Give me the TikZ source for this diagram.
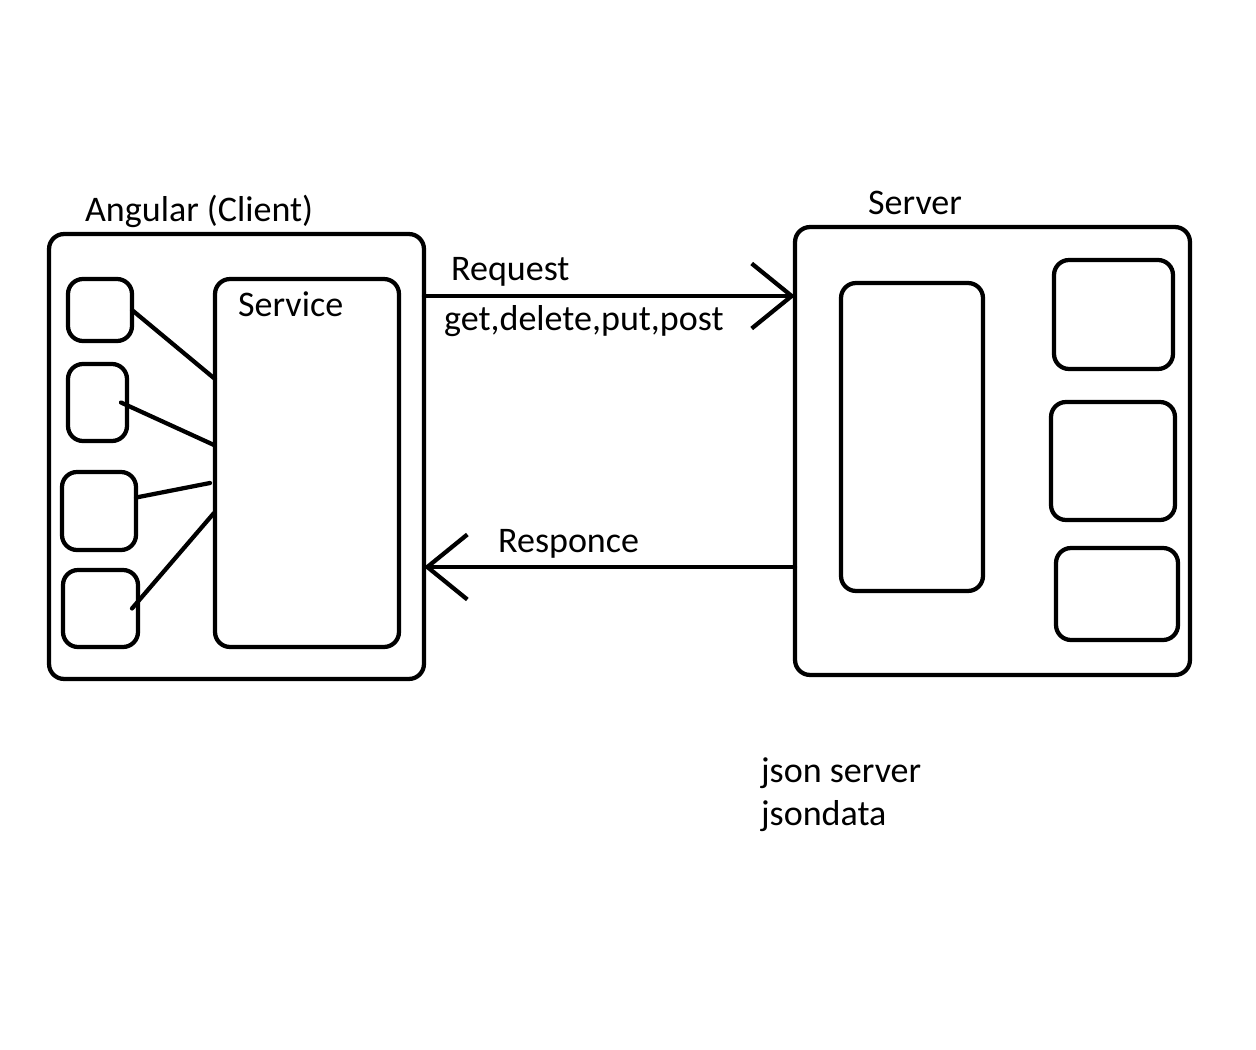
\documentclass[tikz,border=0pt]{standalone}
\usepackage{fontspec}
\setmainfont{Carlito}
\usetikzlibrary{arrows.meta}

\begin{document}
\begin{tikzpicture}[x=0.02cm,y=-0.02cm,line width=0.085cm,line cap=round,
	box/.style={draw,rounded corners=0.3cm,inner sep=0,outer sep=0},
	lbl/.style={anchor=base west,inner sep=0,font=\fontsize{20.5}{24}\selectfont},
	barb/.style={-{Straight Barb[length=0.8cm,width=1.3cm]}}]
	\useasboundingbox (0,0) rectangle (1256,1050);
	% client side
	\node[box,minimum width=7.5cm,minimum height=8.9cm] (client) at (236.5,456.5) {};
	\node[box,minimum width=3.68cm,minimum height=7.36cm] (svc) at (307,463) {};
	\node[box,minimum width=1.28cm,minimum height=1.24cm] (c1) at (100,310) {};
	\node[box,minimum width=1.18cm,minimum height=1.54cm] (c2) at (97.5,402.5) {};
	\node[box,minimum width=1.48cm,minimum height=1.56cm] (c3) at (99,511) {};
	\node[box,minimum width=1.5cm,minimum height=1.54cm] (c4) at (100.5,608.5) {};
	\coordinate (s1) at (215,379);
	\coordinate (s2) at (214,445);
	\coordinate (s3) at (210,483);
	\coordinate (s4) at (214,513);
	\draw (c1.east) -- (s1);
	\draw ([xshift=-0.12cm]c2.east) -- (s2);
	\draw (c3.20) -- (s3);
	\draw ([xshift=-0.12cm]c4.east) -- (s4);
	% server side
	\node[box,minimum width=7.9cm,minimum height=8.96cm] (server) at (992.5,451) {};
	\node[box,minimum width=2.84cm,minimum height=6.16cm] (store) at (912,437) {};
	\node[box,minimum width=2.38cm,minimum height=2.18cm] (r1) at (1113.5,314.5) {};
	\node[box,minimum width=2.48cm,minimum height=2.36cm] (r2) at (1113,461) {};
	\node[box,minimum width=2.44cm,minimum height=1.84cm] (r3) at (1117,594) {};
	% request / response
	\draw[barb] (client.east |- 0,296) -- (server.west |- 0,296);
	\draw[barb] (server.west |- 0,567) -- (client.east |- 0,567);
	% labels
	\node[lbl] (clientlbl) at (83,222) {Angular (Client)};
	\node[lbl] (svclbl) at (236,317) {Service};
	\node[lbl] (serverlbl) at (866,215) {Server};
	\node[lbl] (reqlbl) at (449,281) {Request};
	\node[lbl] (methods) at (442,331) {get,delete,put,post};
	\node[lbl] (resplbl) at (496,552) {Responce};
	\node[lbl] (json1) at (759,782) {json server};
	\node[lbl] (json2) at (759,825) {jsondata};
\end{tikzpicture}
\end{document}
